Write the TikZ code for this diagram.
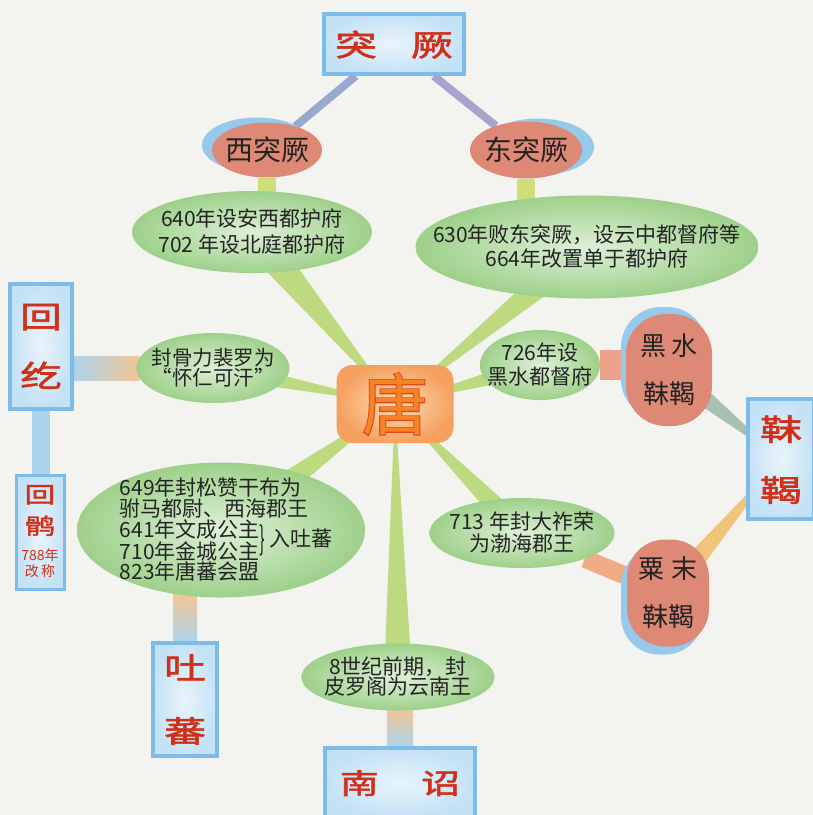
\documentclass[tikz,border=0pt]{standalone}
\usepackage{fontspec}
\usepackage{array}
\usepackage{graphicx}
\usetikzlibrary{shapes.geometric, positioning, calc, shadows}

\newfontfamily\cjk{Noto Sans CJK SC}
\newfontfamily\cjkwide[FakeStretch=1.4, FakeBold=2]{Noto Sans CJK SC}
\newfontfamily\cjkfat[FakeBold=3]{Noto Sans CJK SC}
\newcommand\fsize[2]{\fontsize{#1}{#2}\selectfont}
\newcommand\ovaltext[2][c]{\smash{\makebox[0pt]{\raisebox{-.25em}{\begin{tabular}{@{}#1@{}}#2\end{tabular}}}}}
\renewcommand\arraystretch{0.4}

\definecolor{paper}{RGB}{243,243,240}
\definecolor{boxfill}{RGB}{196,226,246}
\definecolor{boxlight}{RGB}{232,244,250}
\definecolor{boxedge}{RGB}{125,188,232}
\definecolor{namered}{RGB}{208,48,25}
\definecolor{salmon}{RGB}{222,136,118}
\definecolor{haze}{RGB}{150,202,236}
\definecolor{factgreen}{RGB}{158,208,138}
\definecolor{factlight}{RGB}{222,240,216}
\definecolor{ink}{RGB}{35,35,35}
\definecolor{tangouter}{RGB}{245,160,95}
\definecolor{tanginner}{RGB}{252,222,182}
\definecolor{tangorange}{RGB}{246,132,36}
\definecolor{tangred}{RGB}{222,74,28}
\definecolor{spike}{RGB}{190,218,128}
\definecolor{stem}{RGB}{206,222,122}
\definecolor{tujuelink}{RGB}{152,168,206}
\definecolor{tujuelink2}{RGB}{168,162,204}
\definecolor{bluelink}{RGB}{170,212,238}
\definecolor{orangelink}{RGB}{242,198,150}
\definecolor{salmonlink}{RGB}{236,162,136}
\definecolor{greylink}{RGB}{168,192,178}
\definecolor{yellowlink}{RGB}{240,196,122}
\definecolor{orangeband}{RGB}{240,172,132}

\pgfdeclarelayer{links}
\pgfsetlayers{links,main}

\tikzset{
  namebox/.style={rectangle, draw=boxedge, line width=4pt, inner color=boxlight, outer color=boxfill,
    text=namered, font=\cjkwide\fsize{30}{32}},
  tribe/.style={fill=salmon, text=ink, font=\cjk\fsize{28}{30}},
  fact/.style={ellipse, inner color=factlight, outer color=factgreen, text=ink, font=\cjk\fsize{21}{22}}
}

\begin{document}
\begin{tikzpicture}[x=1pt, y=-1pt]
\useasboundingbox (0,0) rectangle (813,815);

% centre
\node[rectangle, rounded corners=16pt, inner color=tanginner, outer color=tangouter,
  minimum width=117, minimum height=78, font=\fsize{66}{68}] (tang) at (395,404)
  {\makebox[0pt]{\color{tangred}\cjkfat 唐}\makebox[0pt]{\color{tangorange}\cjk 唐}};

% top
\node[namebox, minimum width=140, minimum height=60] (tujue) at (394,44) {\ovaltext{突\hspace{34pt}厥}};
\node[tribe, ellipse, minimum width=110, minimum height=55,
  general shadow={fill=haze, shadow xshift=-10pt, shadow yshift=5pt}] (xi) at (267,150) {\ovaltext{西突厥}};
\node[tribe, ellipse, minimum width=112, minimum height=57,
  general shadow={fill=haze, shadow xshift=12pt, shadow yshift=3pt}] (dong) at (526,150) {\ovaltext{东突厥}};
\node[fact, minimum width=240, minimum height=82] (west) at (252,232) {\ovaltext{640年设安西都护府\\[5pt]702 年设北庭都护府}};
\node[fact, minimum width=343, minimum height=103] (east) at (587,247) {\ovaltext{630年败东突厥，设云中都督府等\\[4pt]664年改置单于都护府}};

% left
\node[namebox, minimum width=62, minimum height=125] (huihe) at (41,346) {\ovaltext{回\\[30pt]纥}};
\node[fact, minimum width=153, minimum height=70, font=\cjk\fsize{20.5}{22}] (khan) at (213,368) {\ovaltext{封骨力裴罗为\\“怀仁可汗”}};
\node[namebox, line width=3pt, minimum width=48, minimum height=114, font=\cjkwide\fsize{22}{24}] (huihu) at (40,532)
  {\ovaltext{回\\[10pt]鹘\\[12pt]{\cjk\fsize{14}{15}788年}\\[1pt]{\cjk\fsize{14}{15}改\,称}}};
\node[fact, minimum width=288, minimum height=135] (tibet) at (221,530)
  {\ovaltext[>{\hspace{10pt}}l]{649年封松赞干布为\\[1pt]驸马都尉、西海郡王\\[1pt]\begin{tabular}{@{}l@{}}641年文成公主\\[1pt]710年金城公主\end{tabular}\raisebox{-4pt}{\scalebox{0.8}[1.55]{\}}}\,入吐蕃\\[6pt]823年唐蕃会盟}};
\node[namebox, minimum width=64, minimum height=113] (tubo) at (185,699) {\ovaltext{吐\\[34pt]蕃}};

% bottom
\node[fact, minimum width=193, minimum height=67] (yunnan) at (398,677) {\ovaltext{8世纪前期，封\\皮罗阁为云南王}};
\node[namebox, minimum width=150, minimum height=70, font=\cjkwide\fsize{28}{30}] (nanzhao) at (400,783) {\ovaltext{南\hspace{42pt}诏}};

% right
\node[fact, minimum width=120, minimum height=70] (heishuifu) at (540,365) {\ovaltext{726年设\\[4pt]黑水都督府}};
\node[tribe, rectangle, rounded corners=40pt, minimum width=86, minimum height=112, font=\cjk\fsize{26}{28},
  general shadow={fill=haze, shadow xshift=-5pt, shadow yshift=7pt}] (heishui) at (669,370) {\ovaltext{黑\hspace{6pt}水\\[23pt]靺鞨}};
\node[namebox, minimum width=66, minimum height=120] (mohe) at (781,459) {\ovaltext{靺\\[32pt]鞨}};
\node[fact, minimum width=185, minimum height=70] (bohai) at (522,533) {\ovaltext{713 年封大祚荣\\[1pt]为渤海郡王}};
\node[tribe, rectangle, rounded corners=38pt, minimum width=82, minimum height=107, font=\cjk\fsize{26}{28},
  general shadow={fill=haze, shadow xshift=-6pt, shadow yshift=-8pt}] (sumo) at (668,593) {\ovaltext{粟\hspace{8pt}末\\[23pt]靺鞨}};

\begin{pgfonlayer}{links}
\fill[paper] (0,0) rectangle (813,815);
\draw[line width=8, tujuelink] (tujue) -- (xi);
\draw[line width=8, tujuelink2] (tujue) -- (dong);
\draw[line width=18, stem] (xi) -- (xi |- west);
\draw[line width=18, stem] (dong) -- (dong |- east);
\foreach \n/\w in {west/17pt, east/15pt, khan/10pt, heishuifu/10pt, tibet/17pt, bohai/12pt, yunnan/14pt}
  \fill[spike] (tang.center) -- ($(\n)!\w!90:(tang)$) -- ($(\n)!\w!-90:(tang)$) -- cycle;
\fill[left color=bluelink, right color=orangelink] ($(huihe.east |- khan)+(-3,-12)$) rectangle ($(khan.west)+(3,12)$);
\draw[line width=18, bluelink] (huihe) -- (huihe |- huihu);
\fill[top color=orangelink, bottom color=bluelink] ($(tibet.south -| tubo)+(-12,-3)$) rectangle ($(tubo.north)+(12,3)$);
\fill[top color=orangelink, bottom color=bluelink] ($(yunnan.south -| nanzhao)+(-13,-3)$) rectangle ($(nanzhao.north)+(13,3)$);
\draw[line width=30, salmonlink] (heishuifu) -- (heishui |- heishuifu);
\fill[greylink] (mohe.center) -- ($(heishui)!12pt!90:(mohe)$) -- ($(heishui)!12pt!-90:(mohe)$) -- cycle;
\fill[yellowlink] (mohe.center) -- ($(sumo)!12pt!90:(mohe)$) -- ($(sumo)!12pt!-90:(mohe)$) -- cycle;
\draw[line width=18, orangeband] (bohai) -- (sumo);
\end{pgfonlayer}
\end{tikzpicture}
\end{document}
